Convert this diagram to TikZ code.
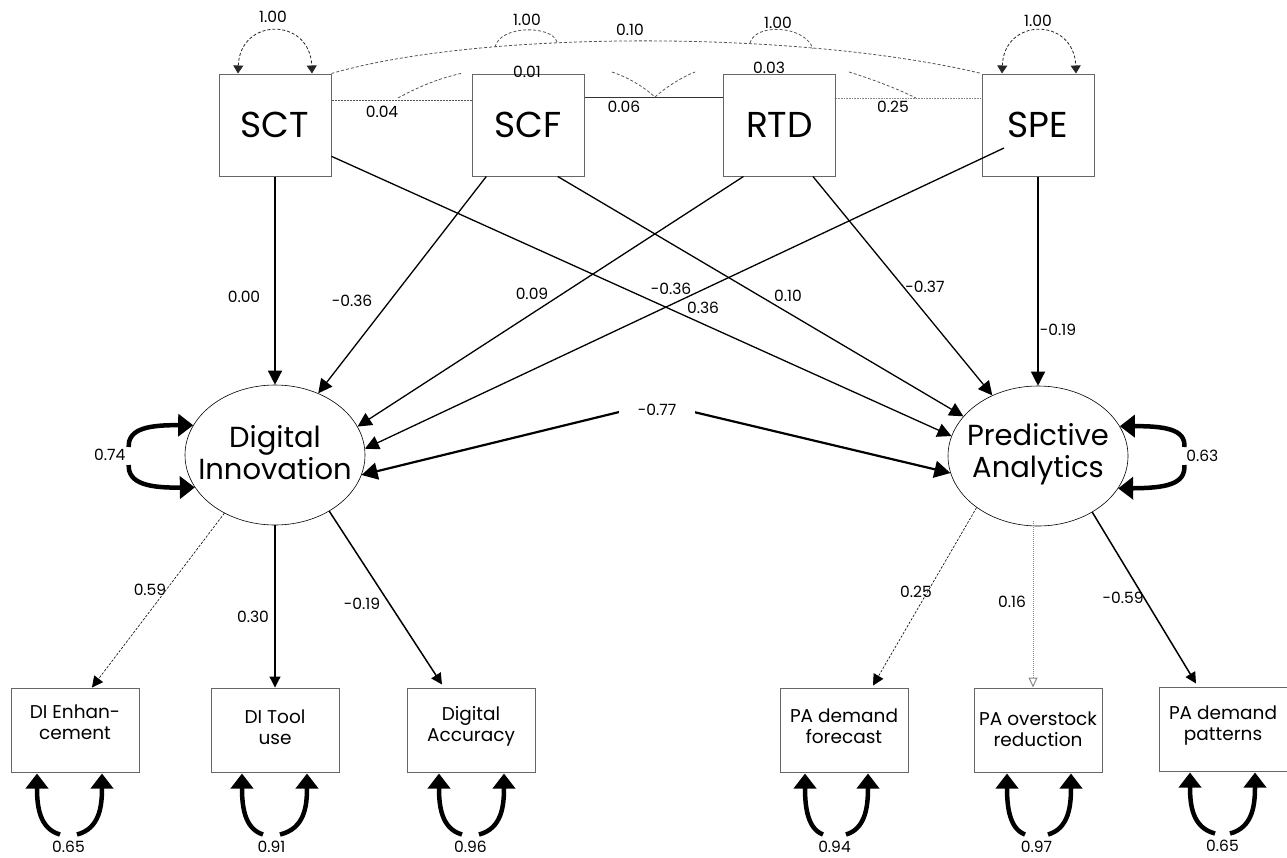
\documentclass[tikz,border=0pt]{standalone}
\usepackage{fontspec}
\setmainfont{Poppins}
\usetikzlibrary{arrows.meta,calc,shapes.geometric}
\definecolor{boxgray}{HTML}{666666}
\definecolor{dashgray}{HTML}{555555}
\definecolor{lightdot}{HTML}{888888}
\newcommand{\residloop}[7]{%
  \draw[res] ($(#1.south)+(#4,62)$) .. controls +({(#2)-(#4)+2},-6) and +(0,32) .. ($(#1.south)+(#2,1)$);
  \draw[res] ($(#1.south)+(#5,62)$) .. controls +({(#3)-(#5)-2},-6) and +(0,32) .. ($(#1.south)+(#3,1)$);
  \node[lab] (#7) at ($(#1.south)+({((#4)+(#5))/2},74)$) {#6};
}
\begin{document}
\begin{tikzpicture}[x=1pt,y=-1pt,
  topbox/.style={draw=boxgray, line width=1pt, minimum width=112pt, minimum height=102pt, inner sep=0pt, font=\fontsize{36}{40}\selectfont},
  latent/.style={draw, ellipse, line width=0.6pt, minimum width=180pt, minimum height=140pt, inner sep=0pt},
  lattxt/.style={align=center, inner sep=0pt, font=\fontsize{29}{32}\selectfont},
  ind/.style={draw=boxgray, line width=1pt, minimum width=128pt, minimum height=84pt, inner sep=0pt},
  indtxt/.style={align=center, inner sep=0pt, font=\fontsize{18.5}{21}\selectfont},
  lab/.style={font=\fontsize{15.5}{17}\selectfont, inner sep=0.5pt},
  reg/.style={line width=1.3pt, -{Triangle[length=14pt,width=14pt]}},
  cov77/.style={line width=2.2pt, {Triangle[length=16pt,width=17pt]}-{Triangle[length=16pt,width=17pt]}},
  res/.style={line width=4.5pt, -{Triangle[length=15pt,width=22pt]}},
  load/.style={line width=1.2pt, -{Triangle[length=11pt,width=11pt]}},
  loaddash/.style={line width=0.6pt, dash pattern=on 2.5pt off 1.5pt, -{Triangle[length=11pt,width=11pt]}},
  loaddot/.style={line width=1pt, draw=lightdot, dash pattern=on 1pt off 1pt, -{Triangle[open,length=10pt,width=9pt]}},
  varloop/.style={line width=0.8pt, draw=black!85, dash pattern=on 3pt off 2pt, {Triangle[length=8pt,width=10pt]}-{Triangle[length=8pt,width=10pt]}},
  covdash/.style={line width=0.8pt, draw=dashgray, dash pattern=on 3pt off 2pt}
]
\useasboundingbox (0,0) rectangle (1287,857);

% exogenous boxes
\node[topbox] (SCT) at (275,125) {SCT};
\node[topbox] (SCF) at (528,125) {SCF};
\node[topbox] (RTD) at (779.5,125) {RTD};
\node[topbox] (SPE) at (1038,125) {SPE};

% latent variables
\node[latent] (DI) at (275,455) {};
\node[lattxt] (DIt) at (275,453) {Digital\\Innovation};
\node[latent] (PA) at (1038,456) {};
\node[lattxt] (PAt) at (1038,454) {Predictive\\Analytics};

% indicator boxes
\node[ind] (b1) at (75,730) {};
\node[indtxt] (b1t) at (75,722) {DI Enhan-\\cement};
\node[ind] (b2) at (275,730) {};
\node[indtxt] (b2t) at (275,727) {DI Tool\\use};
\node[ind] (b3) at (471,730) {};
\node[indtxt] (b3t) at (471,726) {Digital\\Accuracy};
\node[ind] (b4) at (844,730) {};
\node[indtxt] (b4t) at (844,726) {PA demand\\forecast};
\node[ind] (b5) at (1038,730) {};
\node[indtxt] (b5t) at (1038,729) {PA overstock\\reduction};
\node[ind] (b6) at (1223,729) {};
\node[indtxt] (b6t) at (1223,726) {PA demand\\patterns};

% variances of exogenous variables
\draw[varloop] ($(SCT.north)+(-37,0)$) .. controls (240,17) and (310,17) .. ($(SCT.north)+(37,0)$);
\node[lab] (v1) at (273,17) {1.00};
\draw[varloop] ($(SPE.north)+(-36,0)$) .. controls (1004,17) and (1074,17) .. ($(SPE.north)+(38,0)$);
\node[lab] (v4) at (1038,21) {1.00};
\draw[covdash] (495,47) .. controls (500,25) and (552,25) .. (557,42);
\node[lab] (v2) at (527,20) {1.00};
\draw[covdash] (750,43) .. controls (755,23) and (805,25) .. (813,49);
\node[lab] (v3) at (778,23) {1.00};

% covariances among exogenous variables
\draw[covdash] (SCT.north east) .. controls (480,30) and (800,30) .. (SPE.north west);
\node[lab] (c10) at (630,30) {0.10};
\draw[covdash, dash pattern=on 2pt off 1pt] ($(SCT.east)+(0,-25)$) -- ($(SCF.west)+(0,-25)$);
\node[lab] (c04) at (382,112) {0.04};
\draw[line width=0.9pt, draw=black!80] ($(SCF.east)+(0,-28)$) -- ($(RTD.west)+(0,-28)$);
\node[lab] (c06) at (624,107) {0.06};
\draw[line width=1pt, draw=lightdot, dash pattern=on 1pt off 0.6pt] ($(RTD.east)+(0,-27)$) -- ($(SPE.west)+(0,-27)$);
\node[lab] (c25) at (893,107) {0.25};
\draw[covdash] (398,98) .. controls (420,86) and (440,78) .. (463,73);
\draw[covdash] (612,72) .. controls (630,78) and (645,88) .. (655,97);
\draw[covdash] (655,97) .. controls (665,88) and (680,78) .. (695,72);
\draw[covdash] (849,72) .. controls (875,80) and (900,90) .. (916,98);
\node[lab] (c01) at (527,72) {0.01};
\node[lab] (c03) at (769,68) {0.03};

% structural paths
\coordinate (spe1) at (1004,148);
\draw[reg] (SCT.south) -- (DI.north);
\draw[reg] (SCT.-29.4) -- (PA.167);
\draw[reg] (SCF.-129.5) -- (DI.55);
\draw[reg] (SCF.-60.4) -- (PA.152);
\draw[reg] (RTD.-125.6) -- (DI.19);
\draw[reg] (RTD.-57.5) -- (PA.127);
\draw[reg] (spe1) -- (DI.4);
\draw[reg] (SPE.south) -- (PA.north);
\node[lab] (p1) at (244,297) {0.00};
\node[lab] (p2) at (352,301) {-0.36};
\node[lab] (p3) at (532,294) {0.09};
\node[lab] (p4) at (671,289) {-0.36};
\node[lab] (p5) at (703,308) {0.36};
\node[lab] (p6) at (788,296) {0.10};
\node[lab] (p7) at (925,287) {-0.37};
\node[lab] (p8) at (1058,330) {-0.19};

% latent covariance
\coordinate (c77) at (656,403);
\draw[cov77] (DI.-13) -- (c77) -- (PA.191);
\node[lab, fill=white, minimum width=76pt, minimum height=20pt] (l77) at (657,410) {-0.77};

% latent residual variances
\draw[res] ($(DI.west)+(-56,-8)$) .. controls (128,428) and (150,425) .. (DI.160);
\draw[res] ($(DI.west)+(-56,10)$) .. controls (128,484) and (150,488) .. (DI.202);
\node[lab] (r74) at ($(DI.west)+(-75,0)$) {0.74};
\draw[res] ($(PA.east)+(56,-9)$) .. controls (1186,429) and (1164,426) .. (PA.20);
\draw[res] ($(PA.east)+(56,9)$) .. controls (1186,485) and (1164,488) .. (PA.-22);
\node[lab] (r63) at ($(PA.east)+(74,0)$) {0.63};

% loadings
\draw[loaddash] (DI.229) -- ($(b1.north)+(17,0)$);
\draw[load] (DI.south) -- (b2.north);
\draw[load, line width=1.5pt] (DI.-46.5) -- ($(b3.north)+(-29,-3)$);
\draw[loaddash] (PA.220) -- ($(b4.north)+(29,-2)$);
\draw[loaddot] ($(PA.south)+(-5,-5)$) -- ($(b5.north)+(-5,0)$);
\draw[load, line width=1.5pt] (PA.-46.4) -- ($(b6.north)+(-27,-3)$);
\node[lab] (q1) at (150,590) {0.59};
\node[lab] (q2) at (253,617) {0.30};
\node[lab] (q3) at (362,604) {-0.19};
\node[lab] (q4) at (916,592) {0.25};
\node[lab] (q5) at (1012,602) {0.16};
\node[lab] (q6) at (1123,598) {-0.59};

% residual variances of indicators
\residloop{b1}{-38}{27}{-15}{2}{0.65}{e1}
\residloop{b2}{-33}{32}{-12}{5}{0.91}{e2}
\residloop{b3}{-32}{33}{-9}{8}{0.96}{e3}
\residloop{b4}{-39}{24}{-21}{2}{0.94}{e4}
\residloop{b5}{-31}{33}{-13}{10}{0.97}{e5}
\residloop{b6}{-33}{32}{-8}{7}{0.65}{e6}
\end{tikzpicture}
\end{document}
